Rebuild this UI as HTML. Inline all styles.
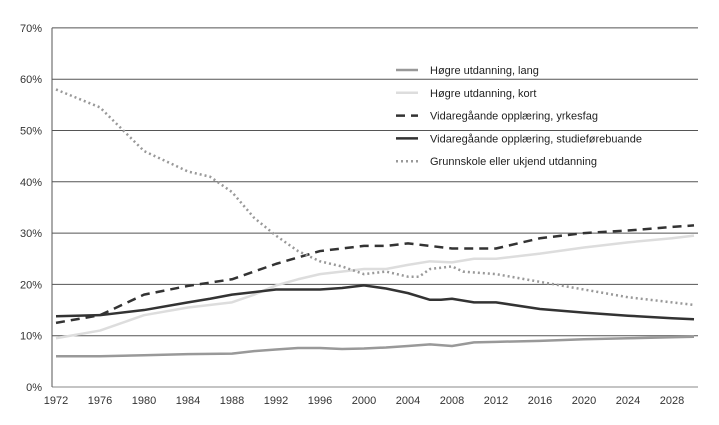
<!DOCTYPE html>
<html><head><meta charset="utf-8"><style>
body{margin:0;background:#fff;}
svg{display:block;font-family:"Liberation Sans",sans-serif;}
</style></head><body>
<svg id="c" width="719" height="425"></svg>
<script>
const yTicks=[0,10,20,30,40,50,60,70];
const xTicks=[1972,1976,1980,1984,1988,1992,1996,2000,2004,2008,2012,2016,2020,2024,2028];
const langYears=[1972,1976,1980,1984,1988,1990,1992,1994,1996,1998,2000,2002,2004,2006,2008,2010,2012,2016,2020,2024,2028,2030];
const langVals=[6,6,6.2,6.4,6.5,7,7.3,7.6,7.6,7.4,7.5,7.7,8,8.3,8,8.7,8.8,9,9.3,9.5,9.7,9.8];
const kortYears=[1972,1976,1980,1984,1988,1990,1992,1994,1996,2000,2002,2004,2006,2008,2010,2012,2016,2020,2024,2028,2030];
const kortVals=[9.5,11,14,15.5,16.5,18,19.8,21,22,23,23,23.8,24.5,24.3,25,25,26,27.2,28.2,29,29.5];
const yrkYears=[1972,1976,1980,1984,1988,1992,1996,2000,2002,2004,2006,2008,2012,2014,2016,2020,2024,2028,2030];
const yrkVals=[12.5,14,18,19.7,21,24,26.5,27.5,27.5,28,27.5,27,27,28,29,30,30.5,31.2,31.5];
const stuYears=[1972,1976,1980,1984,1986,1988,1990,1992,1996,1998,2000,2002,2004,2006,2007,2008,2010,2012,2016,2020,2024,2028,2030];
const stuVals=[13.8,14,15,16.5,17.2,18,18.5,19,19,19.3,19.8,19.2,18.3,17,17,17.2,16.5,16.5,15.2,14.5,13.9,13.4,13.2];
const grYears=[1972,1976,1980,1984,1986,1988,1990,1992,1994,1996,1998,2000,2002,2004,2005,2006,2008,2009,2012,2016,2020,2024,2028,2030];
const grVals=[58,54.5,46,42,41,38,33,29.5,26.5,24.5,23.5,22,22.5,21.5,21.5,23,23.5,22.5,22,20.5,19,17.5,16.5,16];
const labels=["Høgre utdanning, lang","Høgre utdanning, kort","Vidaregåande opplæring, yrkesfag","Vidaregåande opplæring, studieførebuande","Grunnskole eller ukjend utdanning"];
const NS="http://www.w3.org/2000/svg";
const svg=document.getElementById('c');
const X=y=>56+(y-1972)*11;
const Y=v=>387-v*5.13;
function mk(t,a){const e=document.createElementNS(NS,t);for(const k in a)e.setAttribute(k,a[k]);svg.appendChild(e);return e;}
yTicks.forEach(t=>{
  const l=mk('line',{x1:52,x2:698,y1:Y(t),y2:Y(t),stroke:t===0?'#888':'#555','stroke-width':1});
  
  
  const tx=mk('text',{x:42,y:Y(t)+4,'text-anchor':'end','font-size':11,fill:'#333'});
  tx.textContent=t+'%';
  
  
});
const ax=mk('line',{x1:52,x2:52,y1:Y(70),y2:Y(0),stroke:'#555'});


xTicks.forEach(t=>{
  const tx=mk('text',{x:X(t),y:404,'text-anchor':'middle','font-size':11,fill:'#333'});
  tx.textContent=t;
  
  
});
const styles=[
 {stroke:'#999','stroke-width':2.5},
 {stroke:'#ddd','stroke-width':2.5},
 {stroke:'#333','stroke-width':2.5,'stroke-dasharray':'9,6'},
 {stroke:'#333','stroke-width':2.5},
 {stroke:'#999','stroke-width':2.5,'stroke-dasharray':'2,3'}];
const series=[[langYears,langVals],[kortYears,kortVals],[yrkYears,yrkVals],[stuYears,stuVals],[grYears,grVals]];
const names=['series-hogre-lang','series-hogre-kort','series-yrkesfag','series-studieforebuande','series-grunnskole'];
series.forEach((s,i)=>{
  const pts=s[0].map((yr,j)=>X(yr)+','+Y(s[1][j])).join(' ');
  const p=mk('polyline',Object.assign({points:pts,fill:'none','stroke-linejoin':'round'},styles[i]));
  
  
  const ly=70+i*22.8;
  const l=mk('line',Object.assign({x1:396,x2:418,y1:ly,y2:ly},styles[i]));
  
  
  const t=mk('text',{x:430,y:ly+4,'font-size':11,fill:'#222'});
  t.textContent=labels[i];
  
  
});
</script>
</body></html>
